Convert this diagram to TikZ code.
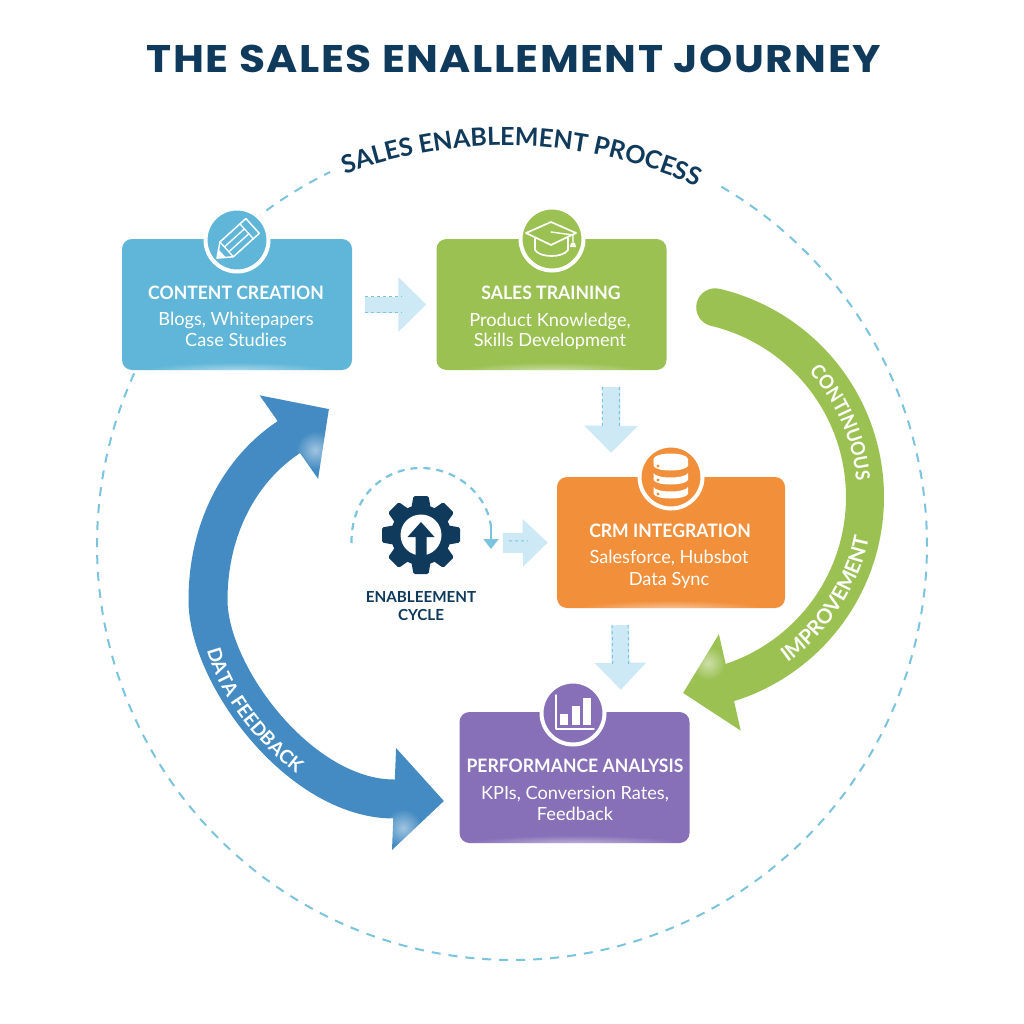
\documentclass[tikz,border=0pt]{standalone}
\usepackage{fontspec}
\setmainfont{Lato}
\newfontfamily\titlefont{Poppins}[LetterSpace=3.5]
\newfontfamily\headfont{Lato}[FakeStretch=0.95]
\newfontfamily\bandfont{Lato}[FakeStretch=0.92]
\usetikzlibrary{arrows.meta,decorations.text,fadings}
\definecolor{navy}{HTML}{0F3A5C}
\definecolor{cblue}{HTML}{60B6D8}
\definecolor{cgreen}{HTML}{9BC153}
\definecolor{corange}{HTML}{F28F3B}
\definecolor{cpurple}{HTML}{8770B8}
\definecolor{cblue2}{HTML}{438BC2}
\definecolor{dashc}{HTML}{7CC4DD}
\definecolor{palec}{HTML}{CDE9F5}
\tikzfading[name=glowf, inner color=transparent!50, outer color=transparent!100]
\newcommand{\fsz}[1]{\fontsize{#1}{#1}\selectfont}
\tikzset{
  stagebox/.style={rounded corners=10pt, minimum width=230pt, minimum height=131pt, inner sep=0pt, fill=#1},
  iconring/.style={circle, fill=#1, draw=white, line width=4pt, minimum size=63pt, inner sep=0pt},
  headtxt/.style={text=white, anchor=base, font=\headfont\fsz{18.5}\bfseries, inner sep=0pt},
  subtxt/.style={text=white, anchor=base, font=\fsz{18.2}, inner sep=0pt},
  softarrow/.style={draw=palec, line width=#1},
  softdash/.style={draw=dashc, line width=1pt, dash pattern=on 3pt off 3pt},
  bigarrow/.style={line width=39pt, line join=round},
  icon/.style={draw=white, line width=1.7pt, line join=round, line cap=round},
  glow/.style={fill=white, path fading=glowf},
}
\begin{document}
\begin{tikzpicture}[x=1pt,y=-1pt]
\useasboundingbox (0,0) rectangle (1024,1024);
\fill[white] (0,0) rectangle (1024,1024);

% title
\node[text=navy, inner sep=0pt, anchor=base] (title) at (514,73) {\scalebox{1.1}[1]{\titlefont\fsz{38.5}\bfseries THE SALES ENALLEMENT JOURNEY}};

% outer dashed circle
\draw[dashc, line width=2pt, dash pattern=on 9pt off 8pt]
  plot[domain=-59.7:244, samples=200] ({512+415*cos(\x)},{545+415*sin(\x)});
\path[decorate, decoration={text along path, text align=center,
   text={|\fsz{25}\bfseries\color{navy}|SALES ENABLEMENT PROCESS}}]
  plot[domain=-122:-54, samples=40] ({506+467*cos(\x)},{612.5+467*sin(\x)});

% stage boxes
\node[stagebox=cblue]   (content) at (237,304.5) {};
\node[stagebox=cgreen]  (sales)   at (551.5,304.5) {};
\node[stagebox=corange, minimum width=228pt] (crm) at (671,542.5) {};
\node[stagebox=cpurple] (perf)    at (574.5,777.5) {};

\foreach \b/\w in {content/95,sales/95,crm/95,perf/110}{
  \begin{scope}
    \clip[rounded corners=10pt] (\b.north west) rectangle (\b.south east);
    \fill[glow] ([yshift=-1pt]\b.south) ellipse[x radius=\w, y radius=9];
  \end{scope}
}

% soft connectors
\draw[softarrow=16pt, shorten <=13pt, shorten >=10pt, -{Triangle[length=28pt,width=53pt]}] (content.east) -- (sales.west);
\draw[softdash, shorten <=13pt, shorten >=34pt] ([yshift=8pt]content.east) -- ([yshift=8pt]sales.west);
\draw[softdash, shorten <=13pt, shorten >=34pt] ([yshift=-8pt]content.east) -- ([yshift=-8pt]sales.west);

\draw[softarrow=18pt, shorten <=17pt, shorten >=24pt, -{Triangle[length=27pt,width=52pt]}] ([xshift=60pt]sales.south) -- ([xshift=-60pt]crm.north);
\draw[softdash, shorten <=17pt, shorten >=48pt] ([xshift=51pt]sales.south) -- ([xshift=-69pt]crm.north);
\draw[softdash, shorten <=17pt, shorten >=48pt] ([xshift=68pt]sales.south) -- ([xshift=-52pt]crm.north);

\draw[softarrow=18pt, shorten <=17pt, shorten >=22pt, -{Triangle[length=27pt,width=50pt]}] ([xshift=-51pt]crm.south) -- ([xshift=46.5pt]perf.north);
\draw[softdash, shorten <=17pt, shorten >=46pt] ([xshift=-59pt]crm.south) -- ([xshift=38.5pt]perf.north);
\draw[softdash, shorten <=17pt, shorten >=46pt] ([xshift=-43pt]crm.south) -- ([xshift=54.5pt]perf.north);

% gear
\node[circle, fill=navy, minimum size=60pt, inner sep=0pt] (gear) at (421,535) {};
\begin{scope}[shift={(gear.center)}]
  \foreach \a in {0,45,...,315}
    \fill[navy, rounded corners=1.5pt, rotate=\a] (-7.5,-39) -- (7.5,-39) -- (10,-25) -- (-10,-25) -- cycle;
  \fill[white] (0,0) circle[radius=20.5];
  \fill[navy] (0,-13) -- (13.5,2) -- (5.5,2) -- (5.5,22) -- (-5.5,22) -- (-5.5,2) -- (-13.5,2) -- cycle;
\end{scope}
\node[text=navy, anchor=base, inner sep=0pt, font=\fsz{15.2}\bfseries] (cyc1) at (421,602.5) {ENABLEEMENT};
\node[text=navy, anchor=base, inner sep=0pt, font=\fsz{15.2}\bfseries] (cyc2) at (421,620) {CYCLE};
\coordinate (cycL) at (351.5,543);
\coordinate (cycR) at (491,527);
\coordinate (cycT) at (491,549);
\coordinate (gearOut) at (503,543);
\draw[dashc, line width=2.2pt, dash pattern=on 7pt off 6pt] (cycL) .. controls (351,495) and (385,468) .. (421,468) .. controls (455,468) and (487,493) .. (cycR);
\draw[dashc, line width=2.2pt, -{Triangle[length=10pt,width=15pt]}] (cycR) -- (cycT);
\draw[softarrow=20pt, shorten >=9pt, -{Triangle[length=25pt,width=46pt]}] (gearOut) -- (crm.west);
\draw[softdash, shorten <=6pt, shorten >=29pt] ([yshift=2pt]gearOut) -- ([yshift=2pt]crm.west);

% green arrow
\coordinate (gTail) at (715.2,307.3);
\coordinate (gMid)  at (864.8,488.5);
\coordinate (gBase) at (731.6,682);
\coordinate (gTip)  at (683,693);
\draw[cgreen, bigarrow, line width=38pt, line cap=round, -{Triangle[length=48pt,width=96pt]}]
  (gTail) .. controls (800,327.5) and (861,401.5) .. (gMid) .. controls (868.6,575.5) and (814.2,654.5) .. (gBase) -- (gTip);
\fill[glow] (708,663) circle[radius=17];
\path[decorate, decoration={text along path, text align=center,
   text={|\bandfont\fsz{19.5}\bfseries\color{white}|CONTINUOUS}}]
  plot[domain=-45:-2, samples=30] ({670+187*cos(\x)},{497+187*sin(\x)});
\path[decorate, decoration={text along path, text align=center,
   text={|\fsz{20.5}\bfseries\color{white}|IMPROVEMENT}}]
  plot[domain=60:6, samples=30] ({670+203*cos(\x)},{497+203*sin(\x)});

% blue arrow
\coordinate (bTipA) at (329,409);
\coordinate (bBaseA) at (289,437);
\coordinate (bMid) at (208,600);
\coordinate (bBaseB) at (394,799);
\coordinate (bTipB) at (444,801);
\draw[cblue2, bigarrow, {Triangle[length=49pt,width=99pt]}-{Triangle[length=50pt,width=99pt]}]
  (bTipA) -- (bBaseA) .. controls (239,470) and (208,530) .. (bMid) .. controls (208,675) and (300,799) .. (bBaseB) -- (bTipB);
\fill[glow] (315,450) circle[radius=19];
\fill[glow] (403,828) circle[radius=19];
\path[decorate, decoration={text along path, text align=center,
   text={|\fsz{19}\bfseries\color{white}|DATA FEEDBACK}}]
  (204,636) .. controls (212,686) and (250,741) .. (308,782);

% icon rings
\node[iconring=cblue]   (icon1) at (237,240) {};
\node[iconring=cgreen]  (icon2) at (552,239) {};
\node[iconring=corange] (icon3) at (671,477) {};
\node[iconring=cpurple] (icon4) at (573,713) {};

% pencil
\begin{scope}[shift={(icon1.center)}]
\begin{scope}[x={(0.74pt,0.67pt)}, y={(-0.67pt,0.74pt)}]
  \draw[icon, line width=1.5pt] (-27,0) -- (-14,-10) -- (21,-10) -- (21,10) -- (-14,10) -- cycle;
  \draw[icon, line width=1.3pt] (-14,-10) -- (-14,10) (13,-10) -- (13,10) (-14,-3.3) -- (13,-3.3) (-14,3.3) -- (13,3.3);
  \fill[white] (-27,0) -- (-20,-5.5) -- (-20,5.5) -- cycle;
\end{scope}
\end{scope}

% mortarboard
\draw[icon] (535,238) -- (535,250) .. controls (540,258) and (563,258) .. (568,250) -- (568,238);
\draw[icon, fill=cgreen] (526,233) -- (551,222) -- (576,233) -- (551,245) -- cycle;
\draw[icon, line width=1.4pt] (551,232) -- (573,235) -- (573,243);
\fill[white] (571,243) -- (575,243) -- (576,247) -- (570,247) -- cycle;

% database
\foreach \y in {459,473,487}{
  \fill[white] (653.5,\y) -- (653.5,\y+7) .. controls (656,\y+13) and (685,\y+13) .. (688,\y+7) -- (688,\y)
     .. controls (685,\y+6) and (656,\y+6) .. (653.5,\y) -- cycle;
  \fill[corange] (658,\y+7) circle[radius=1.6];
}
\fill[white] (670.7,459) ellipse[x radius=17.2, y radius=5.5];

% chart
\draw[icon, line width=1.4pt] (556,695) -- (556,729) -- (594,729);
\fill[white] (560,714) rectangle (568,725);
\fill[white] (571.5,706) rectangle (580,725);
\fill[white] (583,698) rectangle (590.5,725);

% box text
\node[headtxt] (t1) at (236,299.5) {CONTENT CREATION};
\node[subtxt] (s1a) at (236,325.5) {Blogs, Whitepapers};
\node[subtxt] (s1b) at (236,346) {Case Studies};
\node[headtxt] (t2) at (551,299.5) {SALES TRAINING};
\node[subtxt] (s2a) at (550,326) {Product Knowledge,};
\node[subtxt] (s2b) at (550,346) {Skills Development};
\node[headtxt] (t3) at (670,537.5) {CRM INTEGRATION};
\node[subtxt] (s3a) at (669,563) {Salesforce, Hubsbot};
\node[subtxt] (s3b) at (669,585) {Data Sync};
\node[headtxt] (t4) at (575,772.5) {PERFORMANCE ANALYSIS};
\node[subtxt] (s4a) at (575,799) {KPIs, Conversion Rates,};
\node[subtxt] (s4b) at (575,820) {Feedback};
\end{tikzpicture}
\end{document}
